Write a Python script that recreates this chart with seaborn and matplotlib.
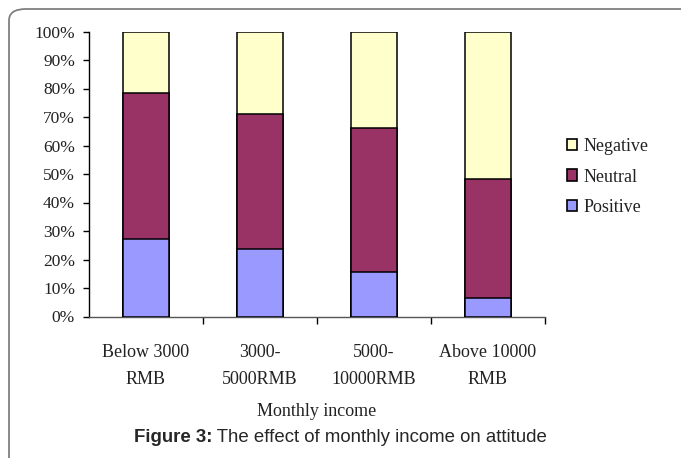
import matplotlib
matplotlib.use("Agg")
import matplotlib.pyplot as plt
import seaborn as sns
import pandas as pd
import numpy as np
from matplotlib.patches import Patch, FancyBboxPatch
from matplotlib.ticker import FixedLocator, PercentFormatter

categories = ["Below 3000\nRMB", "3000-\n5000RMB", "5000-\n10000RMB", "Above 10000\nRMB"]
positive = [27.1, 23.6, 15.7, 6.6]
neutral = [51.4, 47.6, 50.4, 41.5]
negative = [21.5, 28.8, 33.9, 51.9]
series_names = ["Negative", "Neutral", "Positive"]
colors = {"Positive": "#9999FF", "Neutral": "#993366", "Negative": "#FFFFCC"}
yticks = [0, 10, 20, 30, 40, 50, 60, 70, 80, 90, 100]

sns.set_theme(style="white")
plt.rcParams["font.family"] = ["Liberation Serif", "DejaVu Serif"]

df = pd.DataFrame({"cat": categories, "Positive": positive,
                   "Neutral": neutral, "Negative": negative})
df["cum_pos"] = df["Positive"]
df["cum_neu"] = df["Positive"] + df["Neutral"]
df["cum_neg"] = df["cum_neu"] + df["Negative"]

W, H = 681, 458
fig = plt.figure(figsize=(W / 100, H / 100), dpi=100)
ax = fig.add_axes([89 / W, 1 - 316.5 / H, (545 - 89) / W, (316.5 - 31.5) / H])

for col, name in [("cum_neg", "Negative"), ("cum_neu", "Neutral"), ("cum_pos", "Positive")]:
    sns.barplot(data=df, x="cat", y=col, color=colors[name], saturation=1,
                width=0.4, edgecolor="black", linewidth=1.1, ax=ax, zorder=3)

ax.set_xlim(-0.5, 3.5)
ax.set_ylim(0, 100)
ax.yaxis.set_major_locator(FixedLocator(yticks))
ax.yaxis.set_major_formatter(PercentFormatter(decimals=0))
ax.tick_params(axis="y", direction="out", length=4, width=1, color="black",
               labelsize=12.5, pad=6, left=True, labelcolor="#222222")
ax.tick_params(axis="x", which="major", length=0, labelsize=13, pad=20,
               labelcolor="#222222")
ax.set_xticks([0.5, 1.5, 2.5, 3.5], minor=True)
ax.tick_params(axis="x", which="minor", direction="out", length=5, width=1,
               color="black", bottom=True)
for lbl in ax.get_xticklabels():
    lbl.set_linespacing(1.75)
ax.set_xlabel("Monthly income", fontsize=13, labelpad=11, color="#222222")
ax.set_ylabel("")
for s in ["top", "right"]:
    ax.spines[s].set_visible(False)
ax.spines["left"].set_color("black")
ax.spines["bottom"].set_color("#555555")
ax.spines["left"].set_linewidth(1)
ax.spines["bottom"].set_linewidth(1)
ax.grid(False)

handles = [Patch(facecolor=colors[n], edgecolor="black", linewidth=1.2, label=n)
           for n in series_names]
fig.legend(handles=handles, loc="center left", bbox_to_anchor=(560 / W, 1 - 177 / H),
           frameon=False, fontsize=13, handlelength=0.55, handleheight=0.6,
           handletextpad=0.35, labelspacing=0.75, borderaxespad=0,
           labelcolor="#222222")

# outer rounded frame
frame = FancyBboxPatch((9 / W, -0.2), 1.2, 1 - 9 / H + 0.2,
                       boxstyle="round,pad=0,rounding_size=0.025",
                       transform=fig.transFigure, facecolor="none",
                       edgecolor="#808080", linewidth=1.3, clip_on=False)
fig.patches.append(frame)

# caption: bold part + regular part, centred together
sans = ["Liberation Sans", "DejaVu Sans"]
bold_part = "Figure 3:"
rest_part = " The effect of monthly income on attitude"
renderer = fig.canvas.get_renderer()
t1 = fig.text(0, 0, bold_part, fontsize=13.4, weight="bold", family=sans)
t2 = fig.text(0, 0, rest_part, fontsize=13.4, family=sans)
w1 = t1.get_window_extent(renderer).width
w2 = t2.get_window_extent(renderer).width
x0 = (W - (w1 + w2)) / 2
yc = 1 - 437 / H
t1.set_position((x0 / W, yc)); t1.set_va("center"); t1.set_ha("left")
t2.set_position(((x0 + w1) / W, yc)); t2.set_va("center"); t2.set_ha("left")

fig.savefig("out.png", dpi=100)
